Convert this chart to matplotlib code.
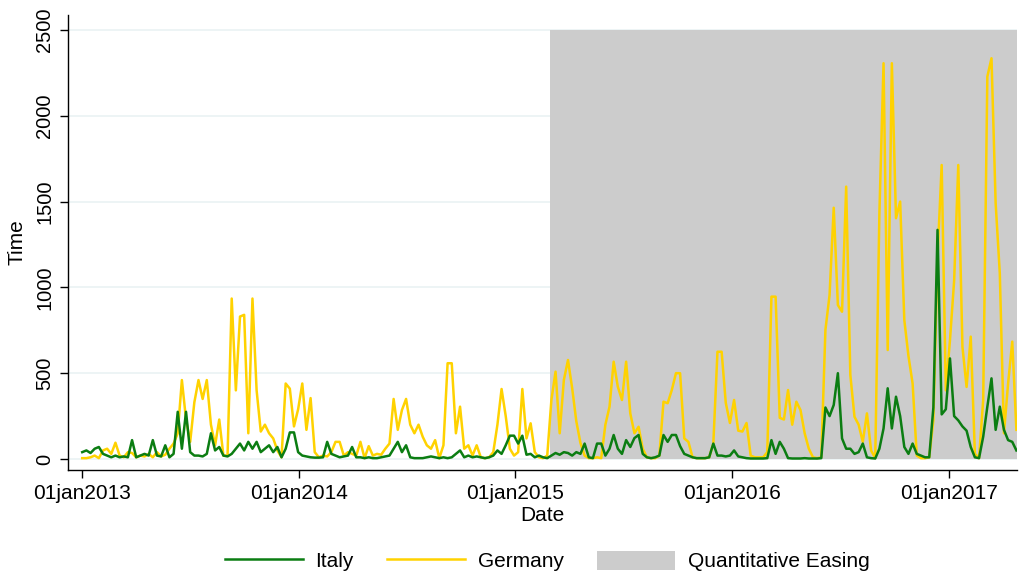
import numpy as np
import pandas as pd
import matplotlib
matplotlib.use('Agg')
import matplotlib.pyplot as plt
import matplotlib.dates as mdates
from matplotlib.patches import Patch
from matplotlib.lines import Line2D

plt.rcParams['font.family'] = ['Liberation Sans', 'DejaVu Sans']

# ---------------- data (weekly readings from the chart) ----------------
series_start = '2013-01-01'

italy = [
    40, 50, 35, 60, 70, 30, 20, 10, 20, 10, 15, 10, 110, 10, 20, 30, 20, 110, 20, 15,
    80, 10, 30, 275, 60, 275, 40, 20, 20, 15, 30, 150, 50, 70, 20, 15, 30, 60, 90, 50,
    100, 60, 100, 40, 60, 80, 40, 70, 10, 60, 155, 155, 40, 20, 15, 10, 8, 8, 10, 100,
    30, 20, 10, 15, 20, 70, 10, 10, 5, 10, 5, 5, 10, 15, 20, 60, 100, 40, 80, 10,
    5, 5, 5, 10, 15, 10, 5, 10, 5, 10, 30, 50, 10, 20, 10, 15, 10, 5, 10, 20,
    50, 30, 80, 136, 136, 90, 136, 25, 30, 10, 20, 10, 5, 20, 35, 25, 40, 35, 20, 40,
    30, 90, 10, 5, 90, 90, 20, 60, 140, 60, 30, 110, 70, 122, 140, 30, 10, 5, 10, 20,
    140, 100, 140, 140, 75, 30, 20, 10, 5, 5, 5, 10, 90, 20, 20, 15, 20, 50, 15, 10,
    5, 3, 3, 3, 3, 5, 110, 30, 100, 60, 5, 3, 3, 3, 5, 3, 3, 3, 5, 300,
    250, 315, 500, 120, 60, 60, 30, 40, 90, 10, 5, 3, 60, 178, 412, 178, 363, 250, 70, 30,
    90, 30, 20, 10, 10, 300, 1335, 260, 290, 586, 250, 225, 190, 165, 70, 10, 5, 130, 305, 470,
    170, 305, 170, 110, 100, 50,
]

germany = [
    5, 5, 10, 20, 5, 50, 60, 30, 95, 20, 10, 40, 35, 10, 20, 15, 30, 10, 40, 15,
    25, 60, 90, 150, 460, 230, 100, 330, 460, 350, 460, 200, 80, 230, 20, 20, 935, 400, 830, 840,
    150, 935, 400, 160, 200, 150, 120, 50, 10, 440, 410, 190, 290, 440, 170, 355, 40, 10, 20, 15,
    40, 100, 100, 20, 40, 30, 20, 100, 5, 75, 20, 30, 25, 60, 90, 350, 170, 285, 350, 200,
    150, 200, 130, 80, 60, 110, 5, 80, 558, 558, 150, 305, 60, 80, 20, 80, 10, 5, 10, 40,
    200, 408, 250, 60, 20, 40, 408, 120, 208, 40, 10, 5, 20, 344, 509, 150, 460, 577, 413, 220,
    93, 20, 5, 5, 10, 5, 200, 305, 567, 421, 344, 567, 266, 150, 188, 60, 10, 5, 5, 20,
    334, 325, 402, 500, 500, 120, 100, 10, 5, 5, 5, 10, 90, 625, 625, 327, 210, 344, 165, 160,
    210, 20, 10, 10, 10, 40, 946, 946, 240, 230, 402, 200, 334, 285, 150, 60, 10, 5, 10, 752,
    956, 1464, 897, 858, 1587, 490, 246, 200, 100, 266, 50, 5, 1432, 2306, 635, 2306, 1403, 1500, 810, 600,
    440, 20, 5, 5, 10, 227, 1179, 1713, 400, 693, 1038, 1713, 654, 420, 713, 30, 5, 344, 2228, 2335,
    1490, 1082, 150, 440, 684, 170,
]

qe_start = '2015-03-01'
qe_top = 2500

xtick_dates = ['2013-01-01', '2014-01-01', '2015-01-01', '2016-01-01', '2017-01-01']
xtick_labels = ['01jan2013', '01jan2014', '01jan2015', '01jan2016', '01jan2017']
yticks = [0, 500, 1000, 1500, 2000, 2500]

# ---------------- plot ----------------
dates = pd.date_range(series_start, periods=len(germany), freq='7D')
dates_it = pd.date_range(series_start, periods=len(italy), freq='7D')

W, H = 1021, 575
fig = plt.figure(figsize=(W / 100, H / 100), dpi=100)
ax = fig.add_axes([68 / W, 1 - 470 / H, (1017 - 68) / W, (470 - 15) / H])

green = '#0b7d12'
gold = '#ffd200'
shade = '#cccccc'

ax.set_ylim(-64, 2587)
ax.set_xlim(pd.Timestamp('2012-12-08'), dates[-1] + pd.Timedelta(days=1))

for yv in yticks:
    ax.axhline(yv, color='#eaf2f3', lw=1.2, zorder=0)

ax.fill_between([pd.Timestamp(qe_start), dates[-1] + pd.Timedelta(days=1)], 0, qe_top,
                color=shade, lw=0, zorder=1)

ax.plot(dates_it, italy, color=green, lw=1.8, zorder=3)
ax.plot(dates, germany, color=gold, lw=1.8, zorder=2.5)

ax.set_yticks(yticks)
ax.set_yticklabels([str(v) for v in yticks], rotation=90, va='center', fontsize=14.5)
ax.set_xticks([pd.Timestamp(d) for d in xtick_dates])
ax.set_xticklabels(xtick_labels, fontsize=15)
ax.tick_params(axis='both', length=6, width=1, color='black', pad=4)

for s in ['top', 'right']:
    ax.spines[s].set_visible(False)
for s in ['left', 'bottom']:
    ax.spines[s].set_color('black')
    ax.spines[s].set_linewidth(1)

ax.set_xlabel('Date', fontsize=15, labelpad=2)
ax.set_ylabel('Time', fontsize=15, labelpad=6)

handles = [Line2D([], [], color=green, lw=1.8),
           Line2D([], [], color=gold, lw=1.8),
           Patch(facecolor=shade, edgecolor='none')]
fig.legend(handles, ['Italy', 'Germany', 'Quantitative Easing'],
           loc='center', bbox_to_anchor=(0.536, 1 - 561 / H), ncol=3, frameon=False,
           fontsize=15, handlelength=3.75, handleheight=1.05, handletextpad=0.6,
           columnspacing=1.6)

fig.savefig('out.png', dpi=100)
